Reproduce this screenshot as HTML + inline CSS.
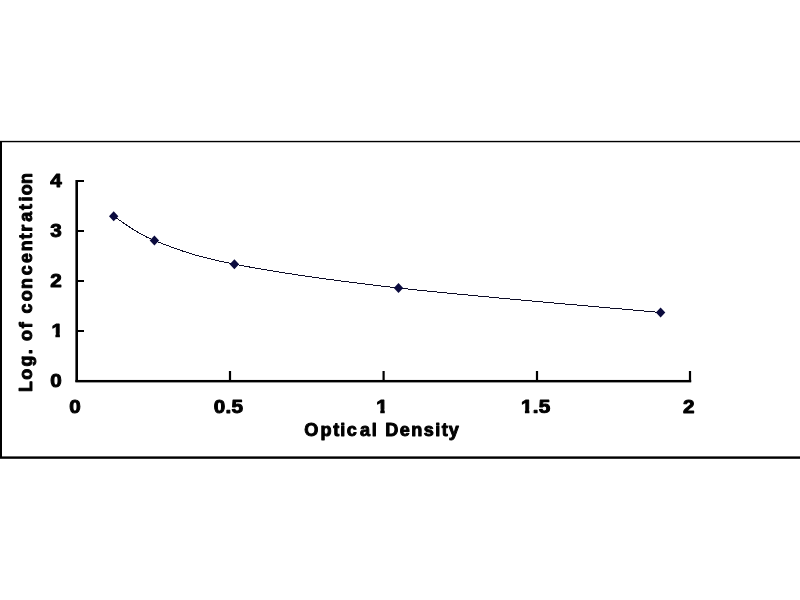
<!DOCTYPE html>
<html lang="en">
<head>
<meta charset="utf-8">
<title>Standard curve: Log. of concentration vs Optical Density</title>
<style>
html,body{margin:0;padding:0;background:#fff;}
body{width:800px;height:600px;overflow:hidden;}
svg{display:block;}
svg text{font-family:"Liberation Sans",Arial,Helvetica,sans-serif;font-weight:bold;fill:#000;stroke:#000;stroke-width:0.95px;stroke-linejoin:round;mix-blend-mode:multiply;}
</style>
</head>
<body>
<svg width="800" height="600" viewBox="0 0 800 600">
<defs><clipPath id="ky1"><rect x="48.40" y="319" width="43" height="14"/><rect x="55.40" y="332.5" width="4.5" height="5"/><rect x="63.30" y="332.5" width="28" height="5"/></clipPath><clipPath id="kx1"><rect x="373.25" y="395" width="43" height="14"/><rect x="380.25" y="408.5" width="4.5" height="5"/><rect x="388.15" y="408.5" width="28" height="5"/></clipPath><clipPath id="kx1_5"><rect x="517.92" y="395" width="43" height="14"/><rect x="524.92" y="408.5" width="4.5" height="5"/><rect x="532.82" y="408.5" width="28" height="5"/></clipPath></defs>
<rect width="800" height="600" fill="#ffffff"/>
<!-- outer frame: top, left, bottom (no right side) -->
<g fill="#000">
<rect x="0" y="140.85" width="800" height="1.4"/>
<rect x="0" y="141" width="2.0" height="317"/>
<rect x="0" y="456.4" width="800" height="2.4"/>
</g>
<!-- axes -->
<g fill="#000">
<rect x="75.4" y="180" width="2.6" height="202"/>
<rect x="75.4" y="379.95" width="615.8" height="2.45"/>
<rect x="76" y="180" width="8" height="2"/>
<rect x="76" y="230" width="8" height="2"/>
<rect x="76" y="280" width="8" height="2"/>
<rect x="76" y="330" width="8" height="2"/>
<rect x="228.9" y="371" width="2.2" height="11"/>
<rect x="382.5" y="371" width="2.2" height="11"/>
<rect x="535.9" y="371" width="2.2" height="11"/>
<rect x="688.9" y="371" width="2.2" height="11"/>
</g>
<!-- axis tick labels -->
<g>
<text transform="translate(61.8,186.65) scale(1.13,1)" text-anchor="end" font-size="18.3">4</text>
<text transform="translate(61.8,236.65) scale(1.13,1)" text-anchor="end" font-size="18.3">3</text>
<text transform="translate(61.8,286.65) scale(1.13,1)" text-anchor="end" font-size="18.3">2</text>
<g clip-path="url(#ky1)"><text transform="translate(62.9,336.65) scale(1.13,1)" text-anchor="end" font-size="18.3">1</text></g>
<text transform="translate(61.8,386.65) scale(1.13,1)" text-anchor="end" font-size="18.3">0</text>
<text transform="translate(75,412.7) scale(1.13,1)" text-anchor="middle" font-size="18.3">0</text>
<text transform="translate(228.55,412.7) scale(1.13,1)" text-anchor="middle" font-size="18.3" letter-spacing="0.27">0.5</text>
<g clip-path="url(#kx1)"><text transform="translate(382,412.7) scale(1.13,1)" text-anchor="middle" font-size="18.3">1</text></g>
<g clip-path="url(#kx1_5)"><text transform="translate(535.75,412.7) scale(1.13,1)" text-anchor="middle" font-size="18.3" letter-spacing="0.27">1.5</text></g>
<text transform="translate(688.8,412.7) scale(1.13,1)" text-anchor="middle" font-size="18.3">2</text>
</g>
<!-- axis titles -->
<text x="304.25 320.56 333.18 340.17 346.70 359.92 371.68 378.46 385.29 399.85 411.31 423.78 435.29 441.73 448.71" y="436.2" font-size="18.1">Optical Density</text>
<text transform="translate(32.2,392.6) rotate(-90) scale(1.0088,1)" text-anchor="start" font-size="17.7" x="0.69 12.84 25.77 38.13 44.64 51.14 63.8 71.32 78.32 90.45 102.61 116.24 128.38 140.02 151.92 159.46 169.24 180.89 189.41 195.67 206.67">Log. of concentration</text>
<!-- series -->
<path d="M113.70,216.20 C120.48,220.25 134.28,232.50 154.40,240.50 C174.52,248.50 193.72,256.28 234.40,264.20 C275.08,272.12 327.47,279.95 398.50,288.00 C469.53,296.05 616.92,308.42 660.60,312.50" fill="none" stroke="#0c0c26" stroke-width="1" shape-rendering="crispEdges"/>
<g fill="#0b0b3e">
<polygon points="113.7,211.2 118.4,216.2 113.7,221.2 109.0,216.2"/>
<polygon points="154.4,235.5 159.1,240.5 154.4,245.5 149.7,240.5"/>
<polygon points="234.4,259.2 239.1,264.2 234.4,269.2 229.7,264.2"/>
<polygon points="398.5,283.0 403.2,288.0 398.5,293.0 393.8,288.0"/>
<polygon points="660.6,307.5 665.3,312.5 660.6,317.5 655.9,312.5"/>
</g>
</svg>
</body>
</html>
